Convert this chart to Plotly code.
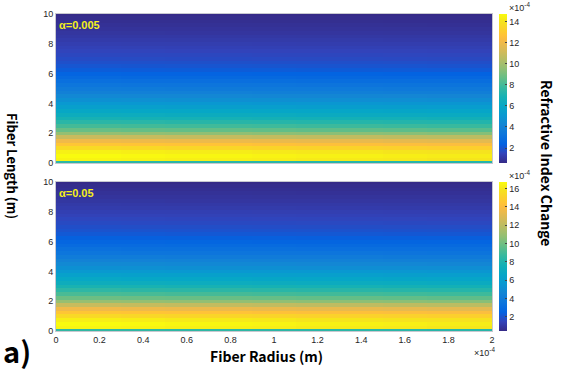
import plotly.graph_objects as go

# ---- data (units of 1e-4 for index change) ----
fiber_length = [0, 0.25, 0.5, 0.75, 1.0, 1.25, 1.5, 1.75, 2.0, 2.25, 2.5, 2.75, 3.0, 3.25, 3.5, 3.75,
                4.0, 4.25, 4.5, 4.75, 5.0, 5.25, 5.5, 5.75, 6.0, 6.25, 6.5, 6.75, 7.0, 7.25, 7.5, 7.75,
                8.0, 8.25, 8.5, 8.75, 9.0, 9.25, 9.5, 9.75, 10.0]
fiber_radius = [0, 0.2e-4, 0.4e-4, 0.6e-4, 0.8e-4, 1.0e-4, 1.2e-4, 1.4e-4, 1.6e-4, 1.8e-4, 2.0e-4]

# index change profile along the length, alpha = 0.005
profile_a005 = [7.5, 14.5, 14.7, 14.4, 13.6, 12.8, 12.0, 10.9, 9.6, 8.7, 8.0, 7.4, 6.9, 6.4, 6.0, 5.5,
                5.1, 4.7, 4.3, 3.9, 3.6, 3.3, 3.0, 2.7, 2.45, 2.2, 2.0, 1.85, 1.7, 1.6, 1.5, 1.4,
                1.3, 1.2, 1.1, 1.0, 0.92, 0.84, 0.76, 0.68, 0.6]
# index change profile along the length, alpha = 0.05
profile_a05 = [8.5, 16.5, 16.7, 16.3, 15.4, 14.5, 13.6, 12.3, 10.9, 9.9, 9.1, 8.4, 7.8, 7.2, 6.7, 6.2,
               5.7, 5.2, 4.8, 4.4, 4.0, 3.6, 3.3, 3.0, 2.7, 2.45, 2.2, 2.0, 1.85, 1.7, 1.58, 1.45,
               1.33, 1.2, 1.1, 0.98, 0.88, 0.78, 0.68, 0.58, 0.47]
# slight radial fall-off
radial_factor = [1.0, 1.0, 0.995, 0.99, 0.99, 0.985, 0.98, 0.98, 0.975, 0.97, 0.97]

x_tickvals = [0, 0.2e-4, 0.4e-4, 0.6e-4, 0.8e-4, 1.0e-4, 1.2e-4, 1.4e-4, 1.6e-4, 1.8e-4, 2.0e-4]
x_ticktext = ["0", "0.2", "0.4", "0.6", "0.8", "1", "1.2", "1.4", "1.6", "1.8", "2"]
y_tickvals = [0, 2, 4, 6, 8, 10]
cb_top_ticks = [2, 4, 6, 8, 10, 12, 14]
cb_bot_ticks = [2, 4, 6, 8, 10, 12, 14, 16]

parula_rgb = [
    (53, 42, 135), (50, 67, 186), (3, 99, 225), (13, 117, 220), (20, 133, 212),
    (9, 152, 209), (6, 167, 198), (21, 177, 180), (56, 185, 158), (101, 190, 134),
    (146, 191, 115), (183, 189, 100), (217, 186, 86), (248, 186, 68), (255, 195, 55),
    (252, 206, 46), (245, 228, 29), (249, 251, 14),
]
parula_pos = [0, 4, 8, 12, 16, 20, 24, 28, 32, 36, 40, 44, 48, 52, 54, 56, 60, 63]
parula = [[p / 63, "rgb(%d,%d,%d)" % c] for p, c in zip(parula_pos, parula_rgb)]

W, H = 563, 372
L, R, T, B = 56, 492, 14, 331          # plot-area box in pixels
PW, PH = R - L, B - T
def px(x): return (x - L) / PW
def py(y): return (B - y) / PH

top_dom = [py(163), py(14)]
bot_dom = [py(331), py(182)]

z_top = [[p * f for f in radial_factor] for p in profile_a005]
z_bot = [[p * f for f in radial_factor] for p in profile_a05]

tickfont = dict(family="Arial, Liberation Sans, sans-serif", size=9, color="#262626")

fig = go.Figure()
fig.add_trace(go.Heatmap(
    x=fiber_radius, y=fiber_length, z=z_top, colorscale=parula,
    zmin=min(profile_a005) * min(radial_factor), zmax=max(profile_a005),
    xaxis="x", yaxis="y", hoverinfo="skip",
    colorbar=dict(x=px(499), xanchor="left", xpad=0, ypad=0, y=top_dom[0], yanchor="bottom",
                  len=top_dom[1] - top_dom[0], lenmode="fraction", thickness=8,
                  outlinewidth=0, tickvals=cb_top_ticks, tickfont=tickfont,
                  ticks="inside", ticklen=2, tickcolor="#444"),
))
fig.add_trace(go.Heatmap(
    x=fiber_radius, y=fiber_length, z=z_bot, colorscale=parula,
    zmin=min(profile_a05) * min(radial_factor), zmax=max(profile_a05),
    xaxis="x2", yaxis="y2", hoverinfo="skip",
    colorbar=dict(x=px(499), xanchor="left", xpad=0, ypad=0, y=bot_dom[0], yanchor="bottom",
                  len=bot_dom[1] - bot_dom[0], lenmode="fraction", thickness=8,
                  outlinewidth=0, tickvals=cb_bot_ticks, tickfont=tickfont,
                  ticks="inside", ticklen=2, tickcolor="#444"),
))

axis_common = dict(showline=True, linecolor="#c8c8d0", linewidth=1, mirror=True,
                   showgrid=False, zeroline=False, tickfont=tickfont, ticks="",
                   automargin=False)
fig.update_layout(
    width=W, height=H, margin=dict(l=L, r=W - R, t=T, b=H - B, autoexpand=False),
    paper_bgcolor="white", plot_bgcolor="white",
    xaxis=dict(domain=[0, 1], anchor="y", range=[0, 2e-4], showticklabels=False,
               tickvals=x_tickvals, **axis_common),
    yaxis=dict(domain=top_dom, anchor="x", range=[0, 10], tickvals=y_tickvals, **axis_common),
    xaxis2=dict(domain=[0, 1], anchor="y2", range=[0, 2e-4], tickvals=x_tickvals,
                ticktext=x_ticktext, **axis_common),
    yaxis2=dict(domain=bot_dom, anchor="x2", range=[0, 10], tickvals=y_tickvals, **axis_common),
    showlegend=False,
)

bold = "Noto Sans CJK KR, Noto Sans, sans-serif"
small = dict(family="Arial, Liberation Sans, sans-serif", size=9, color="#262626")
ann = [
    dict(x=px(57), y=py(25), text="<b>α=0.005</b>", xanchor="left", yanchor="middle",
         font=dict(family="Arial, Liberation Sans, sans-serif", size=11, color="#f5f01a")),
    dict(x=px(57), y=py(193), text="<b>α=0.05</b>", xanchor="left", yanchor="middle",
         font=dict(family="Arial, Liberation Sans, sans-serif", size=11, color="#f5f01a")),
    dict(x=px(13), y=py(166), text="<b>Fiber Length (m)</b>", textangle=90,
         xanchor="center", yanchor="middle", font=dict(family=bold, size=13, color="black")),
    dict(x=px(547), y=py(163), text="<b>Refractive Index Change</b>", textangle=90,
         xanchor="center", yanchor="middle", font=dict(family=bold, size=14, color="black")),
    dict(x=px(266), y=py(356), text="<b>Fiber Radius (m)</b>",
         xanchor="center", yanchor="middle", font=dict(family=bold, size=14, color="black")),
    dict(x=px(17), y=py(350), text="<b>a)</b>",
         xanchor="center", yanchor="middle", font=dict(family=bold, size=29, color="black")),
    dict(x=px(507), y=py(7), text="×10<sup>-4</sup>", xanchor="left", yanchor="middle", font=small),
    dict(x=px(507), y=py(175), text="×10<sup>-4</sup>", xanchor="left", yanchor="middle", font=small),
    dict(x=px(472), y=py(352), text="×10<sup>-4</sup>", xanchor="left", yanchor="middle", font=small),
]
for a in ann:
    a.update(xref="paper", yref="paper", showarrow=False)
fig.update_layout(annotations=ann)

fig.write_html("out.html", config={"displayModeBar": False},
               post_script="document.body.style.margin='0';document.body.style.overflow='hidden';")
